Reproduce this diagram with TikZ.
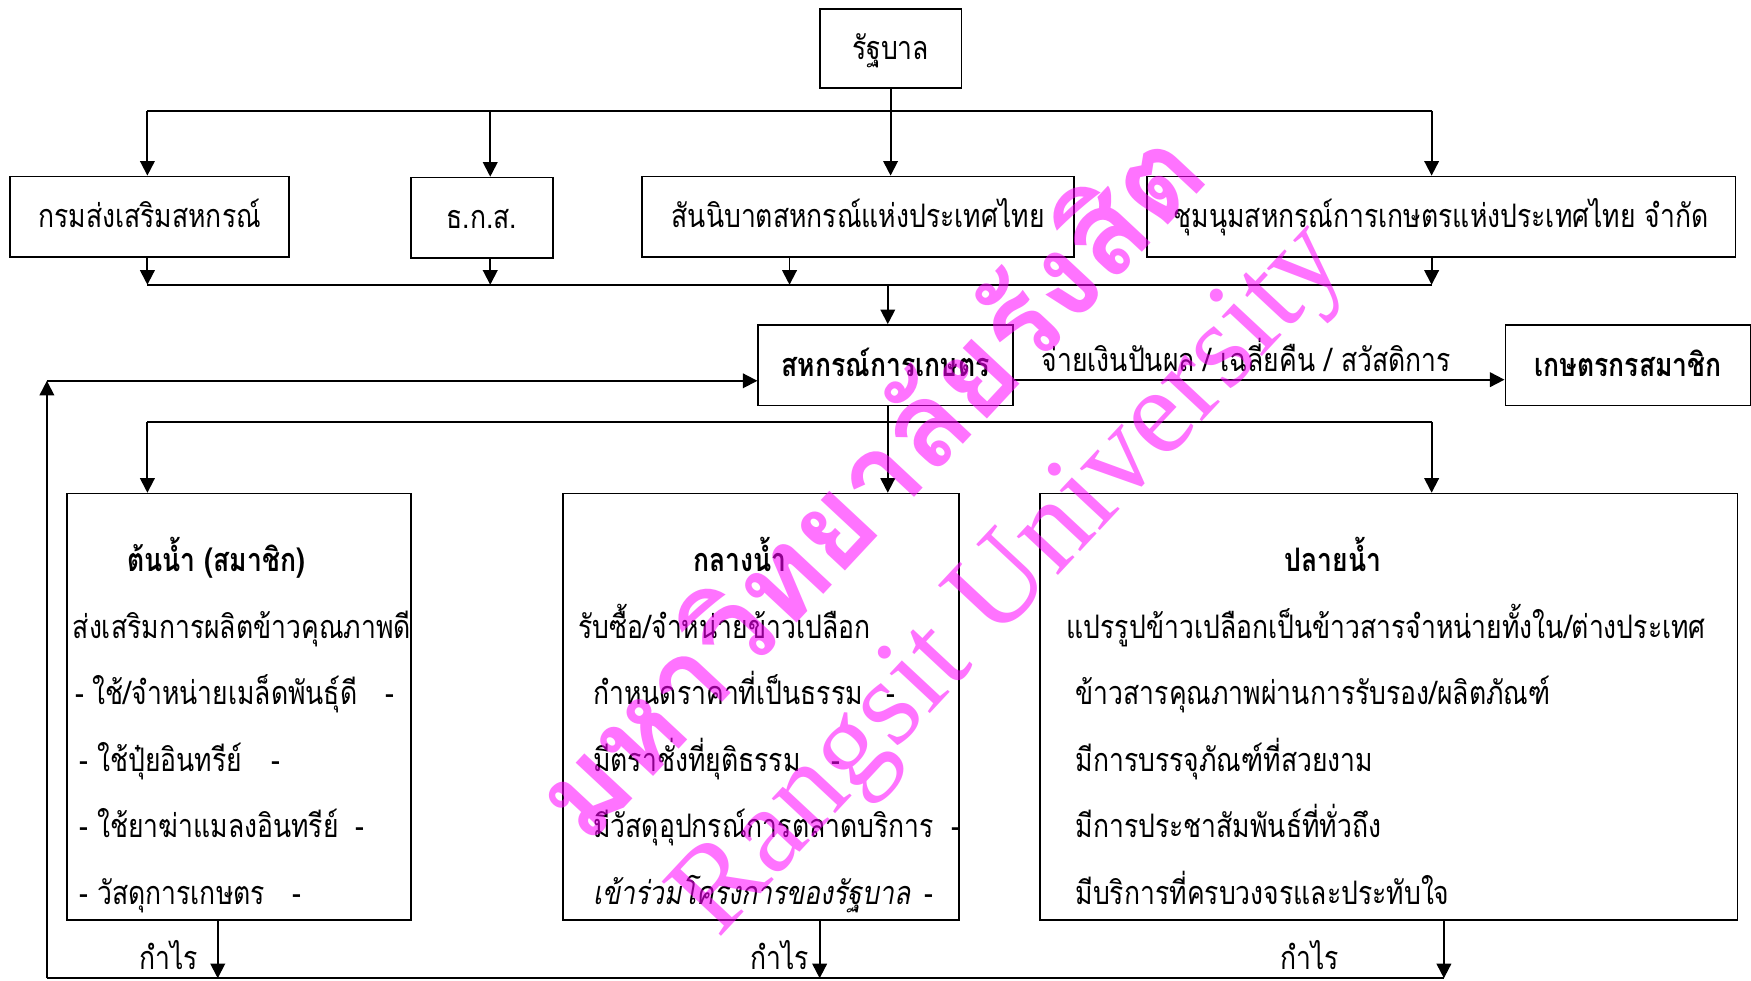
\documentclass[tikz,border=0pt]{standalone}
\usepackage{fontspec}
\usetikzlibrary{arrows.meta}
\newfontfamily\thai[Script=Thai,FakeStretch=0.82]{Loma}
\newfontfamily\wmthai[Script=Thai]{Loma}
\newfontfamily\wmlatin{Liberation Serif}
\definecolor{wm}{rgb}{1,0,1}
\begin{document}
\begin{tikzpicture}[x=1pt,y=-1pt,
  box/.style={draw, line width=1.5pt, inner sep=0pt, text height=20pt, text depth=0pt,
              font=\thai\fontsize{29}{31}\selectfont},
  bigbox/.style={draw, line width=1.5pt, inner sep=0pt},
  conn/.style={line width=1.7pt},
  arr/.style={conn, -{Triangle[width=13pt,length=13pt]}},
  txt/.style={inner sep=0pt, font=\thai\fontsize{29}{31}\selectfont},
  btxt/.style={inner sep=0pt, font=\thai\bfseries\fontsize{29}{31}\selectfont},
  wmark/.style={inner sep=0pt, text=wm, text opacity=0.55, rotate=47}
]
\useasboundingbox (0,0) rectangle (1568,878);

% ---------- top ----------
\node[box, minimum width=127pt, minimum height=71pt] (gov) at (797.5,43.5) {รัฐบาล};

\node[box, minimum width=250pt, minimum height=72pt] (dept) at (134,194) {กรมส่งเสริมสหกรณ์};
\node[box, minimum width=127pt, minimum height=72pt] (baac) at (431.5,195) {ธ.ก.ส.};
\node[box, minimum width=387pt, minimum height=72pt] (fed) at (768.5,194) {สันนิบาตสหกรณ์แห่งประเทศไทย};
\node[box, minimum width=527pt, minimum height=72pt] (agri) at (1290.5,194) {ชุมนุมสหกรณ์การเกษตรแห่งประเทศไทย จำกัด};

\coordinate (t1) at (132,99);
\coordinate (t2) at (439,99);
\coordinate (t3) at (797.5,99);
\coordinate (t4) at (1282,99);
\draw[conn] (t1) -- (t4);
\draw[conn] (gov.south) -- (t3);
\draw[arr] (t1) -- (t1 |- dept.north);
\draw[arr] (t2) -- (t2 |- baac.north);
\draw[arr] (t3) -- (t3 |- fed.north);
\draw[arr] (t4) -- (t4 |- agri.north);

\coordinate (b1) at (132,255);
\coordinate (b2) at (439,255);
\coordinate (b3) at (707,255);
\coordinate (b4) at (1282,255);
\coordinate (b5) at (795,255);
\draw[conn] (b1) -- (b4);
\draw[arr] (b1 |- dept.south) -- (b1);
\draw[arr] (b2 |- baac.south) -- (b2);
\draw[arr] (b3 |- fed.south) -- (b3);
\draw[arr] (b4 |- agri.south) -- (b4);

% ---------- middle ----------
\node[box, minimum width=228pt, minimum height=72pt, font=\thai\bfseries\fontsize{29}{31}\selectfont] (coop) at (793,327) {สหกรณ์การเกษตร};
\node[box, minimum width=220pt, minimum height=72pt, font=\thai\bfseries\fontsize{29}{31}\selectfont] (mem) at (1458,327) {เกษตรกรสมาชิก};
\draw[arr] (b5) -- (b5 |- coop.north);

\coordinate (pay) at (907,340);
\draw[arr] (pay) -- (pay -| mem.west);
\node[txt, anchor=base] (paylbl) at (1116,333) {จ่ายเงินปันผล / เฉลี่ยคืน / สวัสดิการ};

% ---------- distribution bus ----------
\coordinate (d1) at (132,377.5);
\coordinate (d4) at (1282,377.5);
\coordinate (d2) at (795,377.5);
\draw[conn] (d1) -- (d4);

% ---------- bottom boxes ----------
\node[bigbox, minimum width=308pt, minimum height=382pt] (up) at (214,633) {};
\node[bigbox, minimum width=355pt, minimum height=382pt] (midb) at (681.5,633) {};
\node[bigbox, minimum width=625pt, minimum height=382pt] (down) at (1243.5,633) {};

\draw[arr] (d1) -- (d1 |- up.north);
\draw[arr] (coop.south -| d2) -- (d2 |- midb.north);
\draw[arr] (d4) -- (d4 |- down.north);

% upstream texts
\node[btxt, anchor=base] (upT) at (193.5,512) {ต้นน้ำ (สมาชิก)};
\node[txt, anchor=base west] (up1) at (65,572) {ส่งเสริมการผลิตข้าวคุณภาพดี};
\node[txt, anchor=base west] (up2) at (67,631) {- ใช้/จำหน่ายเมล็ดพันธุ์ดี};
\node[txt, anchor=base west] (up3) at (71,691) {- ใช้ปุ๋ยอินทรีย์};
\node[txt, anchor=base west] (up4) at (71,750) {- ใช้ยาฆ่าแมลงอินทรีย์};
\node[txt, anchor=base west] (up5) at (71,810) {- วัสดุการเกษตร};
\node[txt, anchor=base west] (up2d) at (345,631) {-};
\node[txt, anchor=base west] (up3d) at (243,691) {-};
\node[txt, anchor=base west] (up4d) at (318,750) {-};
\node[txt, anchor=base west] (up5d) at (262,810) {-};

% midstream texts
\node[btxt, anchor=base] (midT) at (662.5,512) {กลางน้ำ};
\node[txt, anchor=base west] (m1) at (518,572) {รับซื้อ/จำหน่ายข้าวเปลือก};
\node[txt, anchor=base west] (m2) at (531,631) {กำหนดราคาที่เป็นธรรม};
\node[txt, anchor=base west] (m3) at (531,691) {มีตราชั่งที่ยุติธรรม};
\node[txt, anchor=base west] (m4) at (531,750) {มีวัสดุอุปกรณ์การตลาดบริการ};
\node[txt, anchor=base west, font=\thai\itshape\fontsize{29}{31}\selectfont] (m5) at (531,810) {เข้าร่วมโครงการของรัฐบาล};
\node[txt, anchor=base west] (m2d) at (794,631) {-};
\node[txt, anchor=base west] (m3d) at (744,691) {-};
\node[txt, anchor=base west] (m4d) at (852,750) {-};
\node[txt, anchor=base west] (m5d) at (828,810) {-};

% downstream texts
\node[btxt, anchor=base] (downT) at (1193.5,512) {ปลายน้ำ};
\node[txt, anchor=base west] (d1t) at (955,572) {แปรรูปข้าวเปลือกเป็นข้าวสารจำหน่ายทั้งใน/ต่างประเทศ};
\node[txt, anchor=base west] (d2t) at (963,631) {ข้าวสารคุณภาพผ่านการรับรอง/ผลิตภัณฑ์};
\node[txt, anchor=base west] (d3t) at (963,691) {มีการบรรจุภัณฑ์ที่สวยงาม};
\node[txt, anchor=base west] (d4t) at (963,750) {มีการประชาสัมพันธ์ที่ทั่วถึง};
\node[txt, anchor=base west] (d5t) at (963,810) {มีบริการที่ครบวงจรและประทับใจ};

% ---------- profit flows ----------
\coordinate (p1) at (195,876);
\coordinate (p2) at (734,876);
\coordinate (p3) at (1293,876);
\coordinate (fl) at (42,876);
\coordinate (fb) at (42,341);
\draw[arr] (p1 |- up.south) -- (p1);
\draw[arr] (p2 |- midb.south) -- (p2);
\draw[arr] (p3 |- down.south) -- (p3);
\draw[conn] (fl) -- (p3);
\draw[arr] (fl) -- (fb);
\draw[arr] (fb) -- (fb -| coop.west);
\node[txt, anchor=base, text depth=0pt] (g1) at (151,868) {กำไร};
\node[txt, anchor=base, text depth=0pt] (g2) at (698,868) {กำไร};
\node[txt, anchor=base, text depth=0pt] (g3) at (1173,868) {กำไร};

% ---------- watermark ----------
\node[wmark, font=\wmthai\bfseries\fontsize{106}{116}\selectfont] (wm1) at (774,430) {มหาวิทยาลัยรังสิต};
\node[wmark, font=\wmlatin\fontsize{110}{120}\selectfont] (wm2) at (908,522) {Rangsit University};
\end{tikzpicture}
\end{document}
